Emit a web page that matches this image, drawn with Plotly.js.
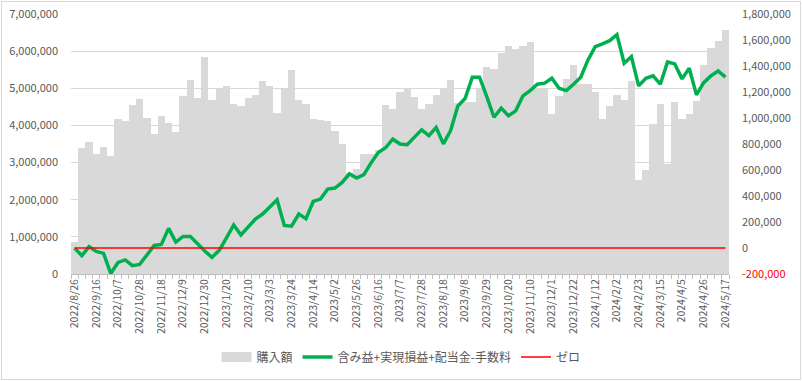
<!DOCTYPE html>
<html>
<head>
<meta charset="utf-8">
<script src="https://cdn.plot.ly/plotly-3.0.1.min.js"></script>
<style>
  html, body { margin: 0; padding: 0; background: #fff; }
  #wrap { position: relative; width: 802px; height: 381px; }
  #chart { position: absolute; left: 0; top: 0; width: 802px; height: 381px; }
  #frame { position: absolute; left: 1px; top: 1px; width: 800px; height: 379px; box-sizing: border-box; border: 1px solid #D9D9D9; pointer-events: none; }
</style>
</head>
<body>
<div id="wrap"><div id="chart"></div><div id="frame"></div></div>
<script>
// Weekly dates (category labels)
const dates = [
  "2022/8/26","2022/9/2","2022/9/9","2022/9/16","2022/9/23","2022/9/30","2022/10/7","2022/10/14","2022/10/21","2022/10/28",
  "2022/11/4","2022/11/11","2022/11/18","2022/11/25","2022/12/2","2022/12/9","2022/12/16","2022/12/23","2022/12/30",
  "2023/1/6","2023/1/13","2023/1/20","2023/1/27","2023/2/3","2023/2/10","2023/2/17","2023/2/24","2023/3/3","2023/3/10",
  "2023/3/17","2023/3/24","2023/3/31","2023/4/7","2023/4/14","2023/4/21","2023/4/28","2023/5/2","2023/5/12","2023/5/19",
  "2023/5/26","2023/6/2","2023/6/9","2023/6/16","2023/6/23","2023/6/30","2023/7/7","2023/7/14","2023/7/21","2023/7/28",
  "2023/8/4","2023/8/11","2023/8/18","2023/8/25","2023/9/1","2023/9/8","2023/9/15","2023/9/22","2023/9/29","2023/10/6",
  "2023/10/13","2023/10/20","2023/10/27","2023/11/3","2023/11/10","2023/11/17","2023/11/24","2023/12/1","2023/12/8",
  "2023/12/15","2023/12/22","2023/12/29","2024/1/5","2024/1/12","2024/1/19","2024/1/26","2024/2/2","2024/2/9","2024/2/16",
  "2024/2/23","2024/3/1","2024/3/8","2024/3/15","2024/3/22","2024/3/29","2024/4/5","2024/4/12","2024/4/19","2024/4/26",
  "2024/5/3","2024/5/10","2024/5/17"
];

// 購入額 (left axis)
const purchase = [
  850000,3400000,3560000,3220000,3430000,3190000,4160000,4130000,4560000,4720000,
  4190000,3760000,4260000,4070000,3810000,4790000,5220000,4730000,5830000,4680000,
  4970000,5050000,4590000,4510000,4740000,4830000,5190000,5070000,4340000,4990000,
  5490000,4680000,4590000,4160000,4140000,4120000,3850000,3490000,2720000,2820000,
  3220000,3220000,3330000,4540000,4440000,4900000,5020000,4770000,4430000,4590000,
  4810000,4990000,5210000,4600000,4620000,4620000,5000000,5560000,5510000,5950000,
  6140000,6050000,6140000,6250000,4970000,4970000,4300000,4790000,5240000,5630000,
  5120000,5110000,4900000,4180000,4510000,4820000,4690000,5190000,2540000,2810000,
  4030000,4590000,2950000,4630000,4160000,4320000,4660000,5620000,6090000,6280000,
  6580000
];

// 含み益+実現損益+配当金-手数料 (right axis)
const profit = [
  0,-59000,10000,-26000,-41000,-196000,-111000,-92000,-136000,-126000,
  -54000,20000,28000,151000,46000,89000,89000,31000,-23000,-72000,
  -18000,77000,177000,100000,158000,223000,261000,315000,371000,174000,
  168000,261000,225000,358000,376000,453000,461000,504000,571000,538000,
  565000,655000,735000,771000,837000,800000,794000,853000,909000,865000,
  927000,801000,904000,1093000,1150000,1314000,1314000,1165000,1006000,1076000,
  1017000,1055000,1170000,1211000,1260000,1268000,1306000,1229000,1211000,1260000,
  1314000,1447000,1549000,1570000,1595000,1641000,1421000,1472000,1247000,1306000,
  1324000,1260000,1431000,1416000,1301000,1383000,1178000,1272000,1324000,1362000,
  1314000
];

// ゼロ (right axis)
const zero = dates.map(() => 0);

// Right axis ticks
const rightTickVals = [-200000,0,200000,400000,600000,800000,1000000,1200000,1400000,1600000,1800000];
const rightTickText = ['<span style="color:#FF0000">-200,000</span>',"0","200,000","400,000","600,000","800,000",
  "1,000,000","1,200,000","1,400,000","1,600,000","1,800,000"];

// X tick labels: every third week labelled
const xTickText = dates.map((d, i) => (i % 3 === 0 ? d : ""));

const FONT = '"Noto Sans CJK JP", "Noto Sans", sans-serif';
const TXT = '#595959';
const BAR = '#D9D9D9';

const traces = [
  {
    type: 'bar', name: '購入額', x: dates, y: purchase,
    marker: { color: BAR, line: { width: 0 } },
    yaxis: 'y', showlegend: false, legendgroup: 'buy'
  },
  {
    // legend entry for the bars, drawn as a wide rectangle like the original
    type: 'scatter', mode: 'lines', name: '購入額', x: [null], y: [null],
    line: { color: BAR, width: 10 }, yaxis: 'y', legendgroup: 'buy', legendrank: 1
  },
  {
    type: 'scatter', mode: 'lines', name: '含み益+実現損益+配当金-手数料', x: dates, y: profit,
    line: { color: '#00B050', width: 3.5 }, yaxis: 'y2', legendrank: 2
  },
  {
    type: 'scatter', mode: 'lines', name: 'ゼロ', x: dates, y: zero,
    line: { color: '#FF0000', width: 1.5 }, yaxis: 'y2', legendrank: 3
  }
];

const layout = {
  width: 802, height: 381,
  margin: { l: 71, r: 73, t: 14, b: 107, pad: 0, autoexpand: false },
  paper_bgcolor: '#FFFFFF', plot_bgcolor: '#FFFFFF',
  font: { family: FONT, size: 10, color: TXT },
  bargap: 0,
  showlegend: true,
  legend: {
    orientation: 'h', x: 0.5, xref: 'container', xanchor: 'center',
    y: 0.063, yref: 'container', yanchor: 'middle',
    font: { family: FONT, size: 12, color: TXT }, traceorder: 'normal',
    itemwidth: 30
  },
  xaxis: {
    type: 'category', tickmode: 'array', tickvals: dates, ticktext: xTickText,
    tickangle: -90, tickson: 'boundaries', ticks: 'outside', ticklen: 4, tickcolor: '#BFBFBF',
    showline: true, linecolor: '#BFBFBF', linewidth: 1, showgrid: false, zeroline: false,
    tickfont: { family: FONT, size: 10.5, color: TXT }, automargin: false,
    range: [-0.5, dates.length - 0.5]
  },
  yaxis: {
    range: [0, 7000000], tickmode: 'linear', tick0: 0, dtick: 1000000, tickformat: ',d',
    showgrid: true, gridcolor: '#D9D9D9', gridwidth: 1, zeroline: false, showline: false,
    ticks: '', ticklabelstandoff: 12, tickfont: { family: FONT, size: 11, color: TXT },
    automargin: false
  },
  yaxis2: {
    overlaying: 'y', side: 'right', range: [-200000, 1800000],
    tickmode: 'array', tickvals: rightTickVals, ticktext: rightTickText,
    showgrid: false, zeroline: false, showline: false, ticks: '', ticklabelstandoff: 12,
    tickfont: { family: FONT, size: 11, color: TXT }, automargin: false
  }
};

Plotly.newPlot('chart', traces, layout, { staticPlot: true, displayModeBar: false });
</script>
</body>
</html>
